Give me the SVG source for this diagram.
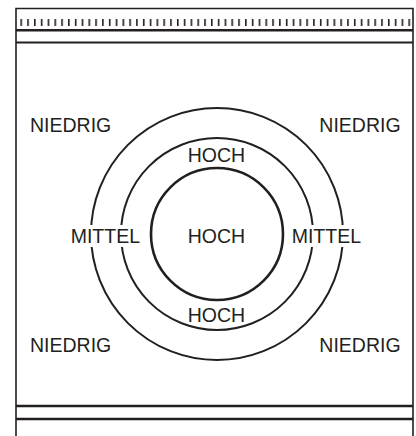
<svg xmlns="http://www.w3.org/2000/svg" width="416" height="436" viewBox="0 0 416 436">
  <defs>
    <style>
      .ln { stroke: #231f20; fill: none; }
      .tx { font-family: "Liberation Sans", Arial, sans-serif; font-size: 19.5px; fill: #231f20; }
      .mid { text-anchor: middle; }
      .tick { stroke: #231f20; stroke-width: 1.6; }
    </style>
    <pattern id="ticks" x="20.4" y="0" width="6.807" height="436" patternUnits="userSpaceOnUse">
      <rect x="0" y="19" width="1.6" height="7" fill="#231f20"/>
    </pattern>
  </defs>
  <rect width="416" height="436" fill="#ffffff"/>
  <g id="frame">
    <path class="ln" stroke-width="1.6" d="M16,445 V8.5 H413 V445"/>
    <rect x="20" y="19" width="391" height="7" fill="url(#ticks)"/>
    <line class="ln" stroke-width="2.4" x1="16" y1="30.2" x2="413" y2="30.2"/>
    <line class="ln" stroke-width="2" x1="16" y1="42.6" x2="413" y2="42.6"/>
    <line class="ln" stroke-width="2.4" x1="16" y1="406" x2="413" y2="406"/>
    <line class="ln" stroke-width="2.4" x1="16" y1="419" x2="413" y2="419"/>
  </g>
  <g id="connectors">
    <circle id="ring-outer" class="ln" stroke-width="2" cx="217" cy="234" r="126"/>
    <circle id="ring-middle" class="ln" stroke-width="2" cx="217" cy="234" r="96"/>
    <circle id="ring-inner" class="ln" stroke-width="2.6" cx="217" cy="234" r="66"/>
    <rect x="68" y="225" width="76" height="22" fill="#ffffff"/>
    <rect x="289" y="225" width="76" height="22" fill="#ffffff"/>
  </g>
  <g id="niedrig-tl"><text class="tx" x="30" y="131.7">NIEDRIG</text></g>
  <g id="niedrig-tr"><text class="tx" x="319.3" y="131.7">NIEDRIG</text></g>
  <g id="niedrig-bl"><text class="tx" x="30" y="351.7">NIEDRIG</text></g>
  <g id="niedrig-br"><text class="tx" x="319.3" y="351.7">NIEDRIG</text></g>
  <g id="mittel-l"><text class="tx" x="70.7" y="243.3">MITTEL</text></g>
  <g id="mittel-r"><text class="tx" x="291.7" y="243.3">MITTEL</text></g>
  <g id="hoch-top"><text class="tx mid" x="216.5" y="162.3">HOCH</text></g>
  <g id="hoch-center"><text class="tx mid" x="216.5" y="243.3">HOCH</text></g>
  <g id="hoch-bottom"><text class="tx mid" x="216.5" y="321.7">HOCH</text></g>
</svg>
